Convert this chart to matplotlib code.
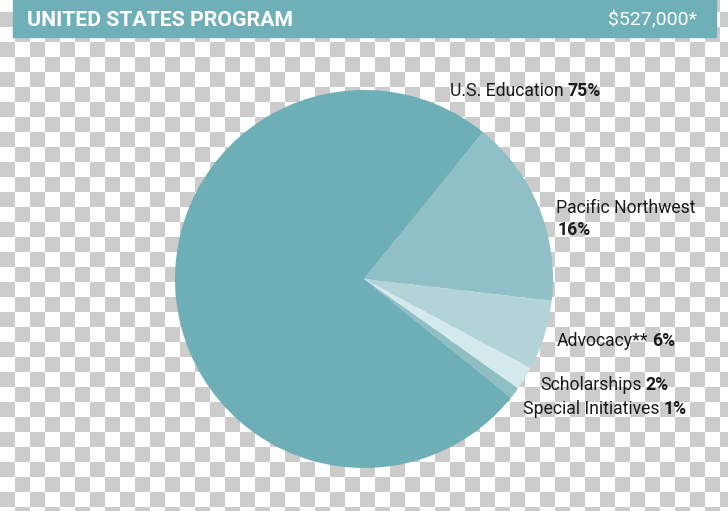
import matplotlib
matplotlib.use('Agg')
import matplotlib.pyplot as plt
from matplotlib.patches import Rectangle
import numpy as np

plt.rcParams['font.family'] = ['Roboto', 'DejaVu Sans']

# data
labels = ['Pacific Northwest', 'Advocacy**', 'Scholarships', 'Special Initiatives', 'U.S. Education']
values = [16, 6, 2, 1, 75]
slice_colors = ['#8fc0c7', '#b2d4d9', '#d4e9ec', '#8dbfc4', '#6eafb7']
title = 'UNITED STATES PROGRAM'
total = '$527,000*'

W, H = 728, 511
fig = plt.figure(figsize=(W / 100, H / 100), dpi=100)

# transparency checkerboard background
bg = fig.add_axes([0, 0, 1, 1])
yy, xx = np.mgrid[0:H, 0:W]
checker = ((xx // 15) + ((yy + 3) // 15)) % 2
bg.imshow(checker, cmap=plt.matplotlib.colors.ListedColormap(['#ffffff', '#cccccc']),
          extent=[0, W, H, 0], interpolation='nearest', aspect='auto')
bg.set_xlim(0, W)
bg.set_ylim(H, 0)
bg.axis('off')

# header bar
bg.add_patch(Rectangle((13, 0), 703, 37, color='#6fb0b8', zorder=2))
bg.text(27, 20, title, color='white', fontsize=15.3, fontweight='bold', va='center', ha='left', zorder=3)
bg.text(697, 20, total, color='white', fontsize=14, va='center', ha='right', zorder=3)

# pie
cx, cy, r = 364, 279, 189
ax = fig.add_axes([(cx - r) / W, (H - cy - r) / H, 2 * r / W, 2 * r / H])
ax.pie(values, colors=slice_colors, startangle=51, counterclock=False, radius=1,
       wedgeprops=dict(linewidth=0))
ax.set_xlim(-1, 1)
ax.set_ylim(-1, 1)
ax.set_aspect('equal')
ax.axis('off')

# labels: regular name followed by bold percentage
fig.canvas.draw()
renderer = fig.canvas.get_renderer()
FS = 12.7


def label(x, y, name, pct, newline=False):
    t = bg.text(x, y, name, fontsize=FS, color='#1a1a1a', va='center', ha='left', zorder=3)
    if newline:
        bg.text(x + 2, y + 22, pct, fontsize=FS, fontweight='bold', color='#1a1a1a',
                va='center', ha='left', zorder=3)
        return
    bb = t.get_window_extent(renderer)
    x_end = bb.x1 * W / fig.bbox.width
    bg.text(x_end + 4, y, pct, fontsize=FS, fontweight='bold', color='#1a1a1a',
            va='center', ha='left', zorder=3)


label(450, 91, 'U.S. Education', '75%')
label(556, 208, 'Pacific Northwest', '16%', newline=True)
label(557, 341, 'Advocacy**', '6%')
label(540, 385, 'Scholarships', '2%')
label(523, 409, 'Special Initiatives', '1%')

fig.savefig('out.png', dpi=100)
